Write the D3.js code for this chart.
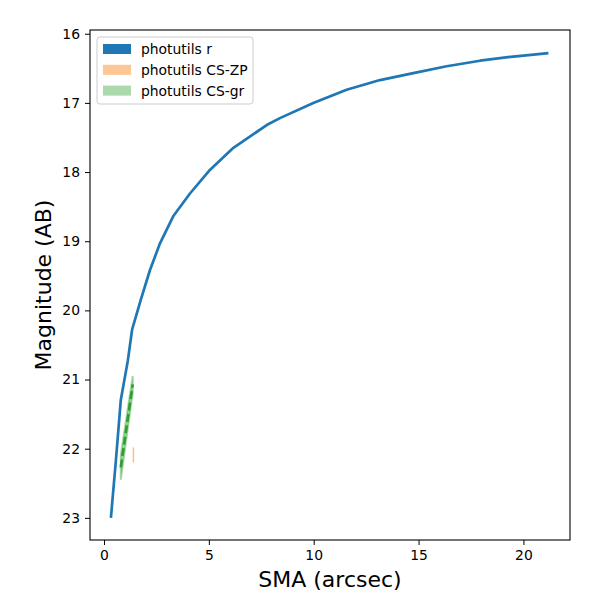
<!DOCTYPE html>
<html>
<head>
<meta charset="utf-8">
<script src="https://cdn.jsdelivr.net/npm/d3@7"></script>
<style>
  body { margin: 0; background: #fff; }
  text { font-family: "DejaVu Sans", sans-serif; fill: #000; }
</style>
</head>
<body>
<div id="chart"></div>
<script>
const width = 600;
const height = 600;

const margin = {
    left: 90,
    right: 30,
    top: 30,
    bottom: 60
}

// photutils r profile (SMA in arcsec, magnitude AB)
const smaR = [0.33, 0.57, 0.80, 1.14, 1.34, 1.75, 2.19, 2.67, 3.30, 4.10, 5.05, 6.17, 7.76, 8.39, 9.98, 11.57, 13.16, 14.75, 16.34, 17.93, 19.52, 21.19];
const magR = [23.0, 22.16, 21.30, 20.72, 20.28, 19.85, 19.42, 19.03, 18.64, 18.31, 17.97, 17.65, 17.32, 17.22, 17.0, 16.81, 16.67, 16.57, 16.47, 16.39, 16.33, 16.28];

// photutils CS-gr
const smaGr = [0.80, 1.37];
const magGr = [22.27, 21.07];
const errGr = [0.18, 0.12];

// photutils CS-ZP
const smaZp = [1.395, 1.41];
const magZp = [22.09, 22.09];
const errZp = [0.10, 0.10];

const xTicks = [0, 5, 10, 15, 20];
const yTicks = [16, 17, 18, 19, 20, 21, 22, 23];

const legendLabels = ["photutils r", "photutils CS-ZP", "photutils CS-gr"];
const legendColors = ["#1f77b4", "rgba(255,127,14,0.45)", "rgba(44,160,44,0.4)"];

let svg = d3.select("#chart")
    .append("svg")
    .attr("width", width)
    .attr("height", height);

let x = d3.scaleLinear()
    .domain([-0.667, 22.22])
    .range([margin.left, width - margin.right]);

let y = d3.scaleLinear()
    .domain([15.946, 23.32])
    .range([margin.top, height - margin.bottom]);

// error bands
function band(sma, mag, err) {
    return sma.map((s, i) => ({s: s, lo: mag[i] - err[i], hi: mag[i] + err[i]}));
}

let area = d3.area()
    .x(d => x(d.s))
    .y0(d => y(d.lo))
    .y1(d => y(d.hi));

svg.append("path")
    .attr("d", area(band(smaZp, magZp, errZp)))
    .attr("fill", "#ff7f0e")
    .attr("fill-opacity", 0.45)
    .attr("stroke", "#ff7f0e")
    .attr("stroke-opacity", 0.45)
    .attr("stroke-width", 1.2);

svg.append("path")
    .attr("d", area(band(smaGr, magGr, errGr)))
    .attr("fill", "#2ca02c")
    .attr("fill-opacity", 0.4)
    .attr("stroke", "#2ca02c")
    .attr("stroke-opacity", 0.4)
    .attr("stroke-width", 2);

let line = d3.line()
    .x(d => x(d[0]))
    .y(d => y(d[1]));

svg.append("path")
    .attr("d", line(smaR.map((s, i) => [s, magR[i]])))
    .attr("fill", "none")
    .attr("stroke", "#1f77b4")
    .attr("stroke-width", 2.7)
    .attr("stroke-linejoin", "round");

svg.append("path")
    .attr("d", line(smaGr.map((s, i) => [s, magGr[i]])))
    .attr("fill", "none")
    .attr("stroke", "#2ca02c")
    .attr("stroke-width", 2.6)
    .attr("stroke-dasharray", "8,3.5");

// axes
let xAxis = svg.append("g")
    .attr("transform", `translate(0,${height - margin.bottom})`)
    .call(d3.axisBottom(x).tickValues(xTicks).tickSize(5).tickPadding(5));

let yAxis = svg.append("g")
    .attr("transform", `translate(${margin.left},0)`)
    .call(d3.axisLeft(y).tickValues(yTicks).tickSize(5).tickPadding(5));

[xAxis, yAxis].forEach(a => {
    a.select(".domain").remove();
    a.selectAll("line").attr("stroke", "#000").attr("stroke-width", 1);
    a.selectAll("text").attr("font-size", "13.9px").attr("fill", "#000")
        .style("font-family", "DejaVu Sans");
});

svg.append("rect")
    .attr("x", margin.left)
    .attr("y", margin.top)
    .attr("width", width - margin.left - margin.right)
    .attr("height", height - margin.top - margin.bottom)
    .attr("fill", "none")
    .attr("stroke", "#000")
    .attr("stroke-width", 1.1);

svg.append("text")
    .attr("x", (margin.left + width - margin.right) / 2)
    .attr("y", 587)
    .attr("text-anchor", "middle")
    .attr("font-size", "22px")
    .text("SMA (arcsec)");

svg.append("text")
    .attr("transform", `translate(51,${(margin.top + height - margin.bottom) / 2}) rotate(-90)`)
    .attr("text-anchor", "middle")
    .attr("font-size", "22px")
    .text("Magnitude (AB)");

// legend
let legend = svg.append("g").attr("transform", "translate(97,37)");

legend.append("rect")
    .attr("width", 156)
    .attr("height", 67)
    .attr("rx", 3)
    .attr("fill", "#fff")
    .attr("fill-opacity", 0.8)
    .attr("stroke", "#ccc");

legendLabels.forEach((lab, i) => {
    legend.append("rect")
        .attr("x", 6)
        .attr("y", 7 + i * 20.8)
        .attr("width", 28)
        .attr("height", 10)
        .attr("fill", legendColors[i]);
    legend.append("text")
        .attr("x", 44)
        .attr("y", 17 + i * 20.8)
        .attr("font-size", "13.9px")
        .text(lab);
});
</script>
</body>
</html>
